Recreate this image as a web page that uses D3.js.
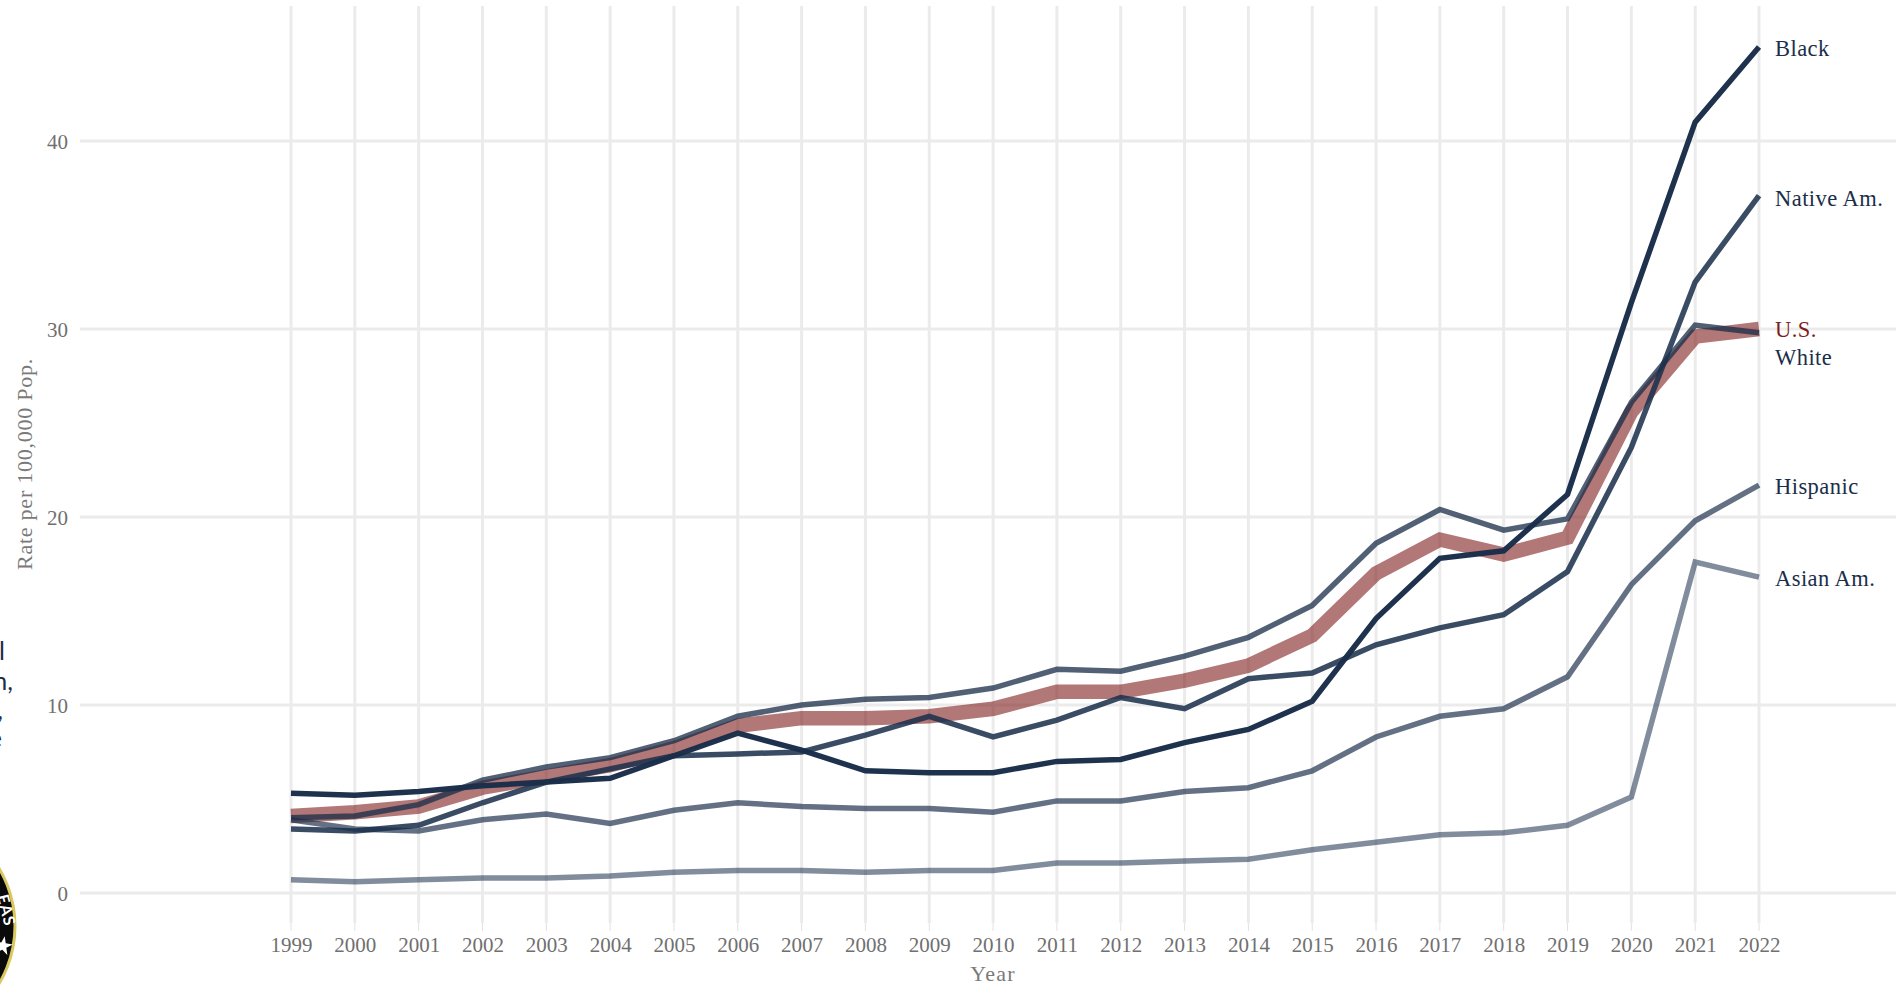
<!DOCTYPE html>
<html><head><meta charset="utf-8"><script src="https://cdn.jsdelivr.net/npm/d3@7"></script>
<style>html,body{margin:0;background:#fff;overflow:hidden}</style></head><body><svg id="c" width="1896" height="987"></svg>
<script>
const years=[1999,2000,2001,2002,2003,2004,2005,2006,2007,2008,2009,2010,2011,2012,2013,2014,2015,2016,2017,2018,2019,2020,2021,2022];
const yTicks=[0,10,20,30,40];
const us=[4.1,4.3,4.6,5.6,6.2,6.8,7.7,8.9,9.3,9.3,9.4,9.8,10.7,10.7,11.3,12.1,13.7,17.0,18.8,18.0,18.9,25.6,29.6,30.0];
const white=[4.0,4.1,4.7,6.0,6.7,7.2,8.1,9.4,10.0,10.3,10.4,10.9,11.9,11.8,12.6,13.6,15.3,18.6,20.4,19.3,19.9,26.1,30.2,29.8];
const black=[5.3,5.2,5.4,5.7,5.9,6.1,7.3,8.5,7.6,6.5,6.4,6.4,7.0,7.1,8.0,8.7,10.2,14.6,17.8,18.2,21.2,31.4,41.0,45.0];
const native=[3.4,3.3,3.6,4.8,5.9,6.6,7.3,7.4,7.5,8.4,9.4,8.3,9.2,10.4,9.8,11.4,11.7,13.2,14.1,14.8,17.1,23.7,32.5,37.1];
const hispanic=[3.9,3.4,3.3,3.9,4.2,3.7,4.4,4.8,4.6,4.5,4.5,4.3,4.9,4.9,5.4,5.6,6.5,8.3,9.4,9.8,11.5,16.4,19.8,21.7];
const asian=[0.7,0.6,0.7,0.8,0.8,0.9,1.1,1.2,1.2,1.1,1.2,1.2,1.6,1.6,1.7,1.8,2.3,2.7,3.1,3.2,3.6,5.1,17.6,16.8];
const sideText=["l","n,",",","e"];
const series=[
 {name:"U.S.",v:us,c:"#7f1d1d",o:.6,w:14.5,ly:330},
 {name:"Asian Am.",v:asian,c:"#1a2e4a",o:.55,w:5.5,ly:579},
 {name:"Hispanic",v:hispanic,c:"#1a2e4a",o:.68,w:5.5,ly:487},
 {name:"White",v:white,c:"#1a2e4a",o:.76,w:5.5,ly:358},
 {name:"Native Am.",v:native,c:"#1a2e4a",o:.86,w:5.5,ly:199},
 {name:"Black",v:black,c:"#1a2e4a",o:.98,w:5.5,ly:49}];
const serif='"Liberation Serif",serif';
const svg=d3.select("#c");
const x=d3.scaleLinear().domain([1999,2022]).range([291,1759]);
const y=d3.scaleLinear().domain([0,40]).range([893,141]);
const g=svg.append("g");
g.selectAll(".h").data(yTicks).join("line").attr("x1",80).attr("x2",1896).attr("y1",d=>y(d)).attr("y2",d=>y(d)).attr("stroke","#ebebeb").attr("stroke-width",3);
g.selectAll(".v").data(years).join("line").attr("x1",d=>x(d)).attr("x2",d=>x(d)).attr("y1",6).attr("y2",923).attr("stroke","#ebebeb").attr("stroke-width",3);
g.selectAll(".vt").data(years).join("line").attr("x1",d=>x(d)).attr("x2",d=>x(d)).attr("y1",923).attr("y2",931).attr("stroke","#e2e2e2").attr("stroke-width",1);
const tickFont=g=>g.call(s=>s.select(".domain").remove()).call(s=>s.selectAll("line").remove()).selectAll("text").attr("font-family",serif).attr("font-size",21).attr("fill","#707070");
svg.append("g").attr("transform","translate(0,930)").call(d3.axisBottom(x).tickValues(years).tickFormat(d3.format("d")).tickSize(0).tickPadding(7)).call(tickFont);
svg.append("g").attr("transform","translate(68,1)").call(d3.axisLeft(y).tickValues(yTicks).tickSize(0).tickPadding(0)).call(tickFont);
const line=d3.line().x((d,i)=>x(years[i])).y(d=>y(d));
svg.selectAll(".s").data(series).join("path").attr("d",d=>line(d.v)).attr("fill","none").attr("stroke",d=>d.c).attr("stroke-opacity",d=>d.o).attr("stroke-width",d=>d.w).attr("stroke-linejoin","miter");
svg.selectAll(".l").data(series).join("text").attr("x",1775).attr("y",d=>d.ly).attr("dy",".3em").attr("font-family",serif).attr("font-size",22.5).attr("letter-spacing",.45).attr("fill",d=>d.c).text(d=>d.name);
svg.append("text").attr("x",993).attr("y",981).attr("text-anchor","middle").attr("font-family",serif).attr("font-size",22).attr("letter-spacing",1.2).attr("fill","#7a7a7a").text("Year");
svg.append("text").attr("transform","translate(32,464) rotate(-90)").attr("text-anchor","middle").attr("font-family",serif).attr("font-size",22).attr("letter-spacing",.75).attr("fill","#7a7a7a").text("Rate per 100,000 Pop.");
// fragments of neighbouring slide content, cut by the left edge
const sideX=[5,13,3,2], sideY=[660,690,719,747];
svg.selectAll(".side").data(sideText).join("text").attr("x",(d,i)=>sideX[i]).attr("y",(d,i)=>sideY[i]).attr("text-anchor","end").attr("font-family","Lato,sans-serif").attr("font-size",25).attr("fill","#1a2e4a").text(d=>d);
const seal=svg.append("g");
seal.append("circle").attr("cx",-97).attr("cy",926).attr("r",112).attr("fill","#0a0a0a").attr("stroke","#d9c860").attr("stroke-width",3);
seal.append("text").attr("transform","translate(-3,896) rotate(76)").attr("font-family","Lato,sans-serif").attr("font-size",16).attr("font-weight",700).attr("letter-spacing",1).attr("fill","#fff").text("EAS");
seal.append("path").attr("transform","translate(3,946) rotate(10)").attr("d",d3.symbol(d3.symbolStar,110)()).attr("fill","#fff");
</script></body></html>
